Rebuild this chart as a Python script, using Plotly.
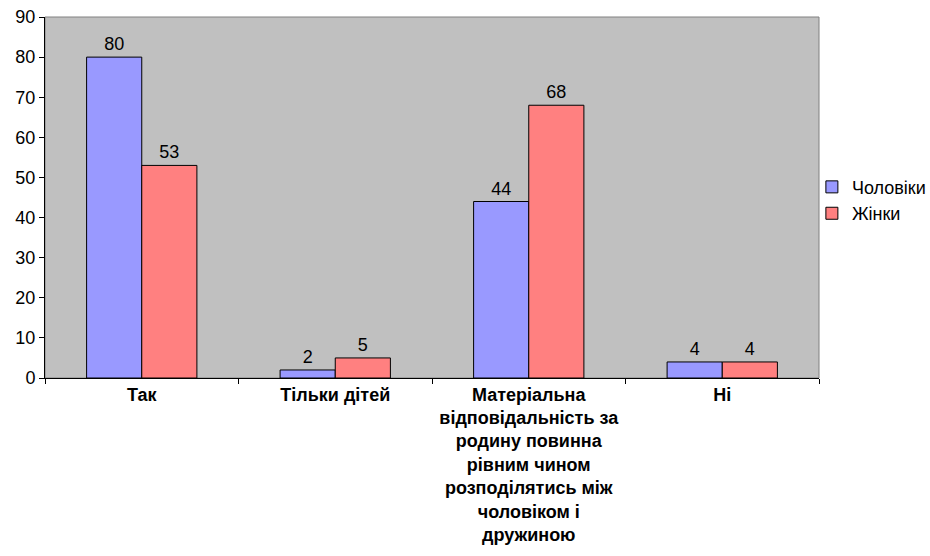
import plotly.graph_objects as go

categories = [
    "Так",
    "Тільки дітей",
    "Матеріальна<br>відповідальність за<br>родину повинна<br>рівним чином<br>розподілятись між<br>чоловіком і<br>дружиною",
    "Ні",
]
men = [80, 2, 44, 4]
women = [53, 5, 68, 4]
series_names = ["Чоловіки", "Жінки"]
y_ticks = [0, 10, 20, 30, 40, 50, 60, 70, 80, 90]

font_family = "Liberation Sans, Arial, sans-serif"

fig = go.Figure()
fig.add_trace(go.Bar(
    x=categories, y=men, name=series_names[0],
    marker=dict(color="#9999FF", line=dict(color="#000000", width=1)),
    text=[str(v) for v in men], textposition="outside",
    textfont=dict(size=18, color="#000000", family=font_family),
    cliponaxis=False,
))
fig.add_trace(go.Bar(
    x=categories, y=women, name=series_names[1],
    marker=dict(color="#FF8080", line=dict(color="#000000", width=1)),
    text=[str(v) for v in women], textposition="outside",
    textfont=dict(size=18, color="#000000", family=font_family),
    cliponaxis=False,
))

fig.update_layout(
    width=930, height=556,
    margin=dict(l=45, r=111, t=17, b=178, autoexpand=False),
    paper_bgcolor="#FFFFFF",
    plot_bgcolor="#C0C0C0",
    barmode="group",
    bargap=0.43,
    bargroupgap=0,
    font=dict(family=font_family, size=18, color="#000000"),
    legend=dict(
        xref="container", yref="container",
        x=0.873, y=0.64, xanchor="left", yanchor="middle",
        font=dict(size=18, family=font_family),
        bgcolor="rgba(0,0,0,0)",
        itemwidth=30, tracegroupgap=0,
    ),
    showlegend=True,
)
fig.update_xaxes(
    automargin=False,
    tickson="boundaries", ticks="outside", ticklen=5, tickcolor="#000000",
    showline=True, linecolor="#000000", linewidth=1,
    showgrid=False, tickangle=0,
    tickfont=dict(size=18, family=font_family, color="#000000", weight="bold"),
    mirror=False,
)
fig.update_yaxes(
    automargin=False,
    range=[0, 90], tickvals=y_ticks, ticks="outside", ticklen=5, tickcolor="#000000",
    showline=True, linecolor="#000000", linewidth=1,
    showgrid=False, zeroline=False,
    tickfont=dict(size=18, family=font_family, color="#000000"),
)
fig.add_shape(type="rect", xref="paper", yref="paper", x0=0, y0=0, x1=1, y1=1,
              line=dict(color="#808080", width=1), layer="below")

fig.write_html("out.html", config={"displayModeBar": False},
               post_script="document.body.style.margin='0';")
